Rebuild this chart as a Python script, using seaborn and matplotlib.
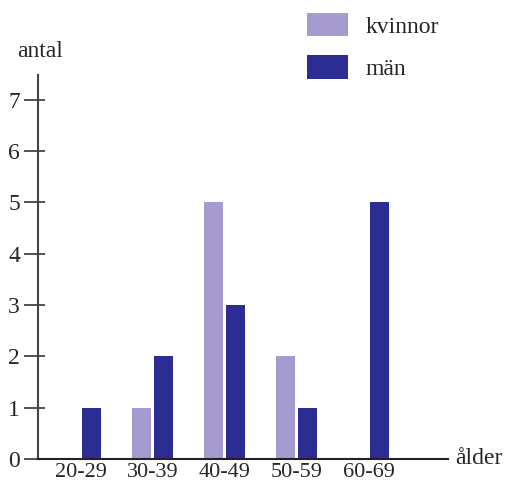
import pandas as pd
import matplotlib
matplotlib.use("Agg")
import matplotlib.pyplot as plt
from matplotlib.patches import Patch
import seaborn as sns

# data
age_groups = ["20-29", "30-39", "40-49", "50-59", "60-69"]
kvinnor = [0, 1, 5, 2, 0]
man = [1, 2, 3, 1, 5]
series_names = ["kvinnor", "män"]
y_ticks = [0, 1, 2, 3, 4, 5, 6, 7]

colors = {"kvinnor": "#a59bcf", "män": "#2b2d92"}

df = pd.DataFrame({
    "ålder": age_groups * 2,
    "antal": kvinnor + man,
    "kön": [series_names[0]] * len(age_groups) + [series_names[1]] * len(age_groups),
})

sns.set_style("white")
plt.rcParams["font.family"] = ["Liberation Serif", "DejaVu Serif"]

fig = plt.figure(figsize=(5.12, 4.87), dpi=100)
ax = fig.add_axes([38 / 512, 1 - 459 / 487, (448 - 38) / 512, (459 - 75) / 487])

sns.barplot(data=df, x="ålder", y="antal", hue="kön", palette=colors,
            order=age_groups, hue_order=series_names,
            width=0.6, gap=0.12, saturation=1, linewidth=0,
            ax=ax, legend=False)

ax.set_xlim(-0.59, 5.1)
ax.set_ylim(0, 7.48)
ax.set_yticks(y_ticks)
ax.set_xlabel("")
ax.set_ylabel("")

for side in ["top", "right"]:
    ax.spines[side].set_visible(False)
ax.spines["left"].set_color("#444444")
ax.spines["left"].set_linewidth(1.5)
ax.spines["bottom"].set_color("#222222")
ax.spines["bottom"].set_linewidth(1.5)

# ticks stick out further to the left than into the plot
ax.set_yticks(y_ticks, minor=True)
ax.yaxis.remove_overlapping_locs = False
ax.tick_params(axis="y", which="major", direction="out", length=10, width=1.2,
               color="#333333", labelsize=17, pad=3, left=True)
ax.tick_params(axis="y", which="minor", direction="in", length=5, width=1.2,
               color="#333333", left=True)
ax.tick_params(axis="x", length=0, labelsize=16, pad=3)

fig.text(17 / 512, 1 - 57 / 487, "antal", fontsize=17, ha="left", va="baseline")
fig.text(455 / 512, 1 - 464 / 487, "ålder", fontsize=17, ha="left", va="baseline")

handles = [Patch(facecolor=colors[n], edgecolor="none") for n in series_names]
fig.legend(handles, series_names, loc="upper left",
           bbox_to_anchor=(307 / 512, 1 - 13 / 487), frameon=False, fontsize=17,
           handlelength=1.75, handleheight=1.15, handletextpad=0.72,
           labelspacing=0.75, borderpad=0, borderaxespad=0)

fig.savefig("out.png", dpi=100, facecolor="white")
